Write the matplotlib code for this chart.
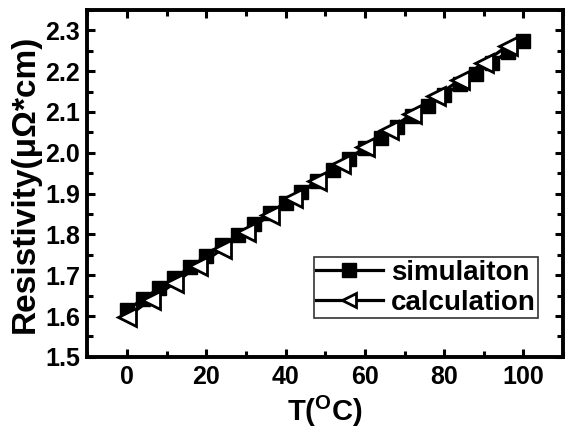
import matplotlib
matplotlib.use('Agg')
import matplotlib.pyplot as plt
from matplotlib.ticker import MultipleLocator, FormatStrFormatter

plt.rcParams['font.family'] = ['Liberation Sans', 'DejaVu Sans']
plt.rcParams['font.weight'] = 'bold'
plt.rcParams['mathtext.fontset'] = 'custom'
plt.rcParams['mathtext.rm'] = 'Liberation Sans:bold'
plt.rcParams['mathtext.default'] = 'rm'

# simulation, every 4 degrees
t_sim = [0, 4, 8, 12, 16, 20, 24, 28, 32, 36, 40, 44, 48, 52, 56, 60,
         64, 68, 72, 76, 80, 84, 88, 92, 96, 100]
r_sim = [1.615, 1.641, 1.668, 1.694, 1.720, 1.747, 1.773, 1.799, 1.826,
         1.852, 1.878, 1.905, 1.931, 1.958, 1.985, 2.011, 2.037, 2.063,
         2.089, 2.115, 2.141, 2.168, 2.194, 2.220, 2.247, 2.273]

# calculation, every 6 degrees
t_calc = [0, 6, 12, 18, 24, 30, 36, 42, 48, 54, 60, 66, 72, 78, 84, 90, 96]
r_calc = [1.598, 1.640, 1.681, 1.723, 1.764, 1.806, 1.847, 1.889, 1.930,
          1.972, 2.013, 2.055, 2.096, 2.138, 2.179, 2.221, 2.262]

fig = plt.figure(figsize=(5.7, 4.3), dpi=100)
ax = fig.add_axes([0.153, 0.170, 0.835, 0.807])

ax.plot(t_sim, r_sim, color='black', lw=2.3, marker='s', ms=10,
        mfc='black', mec='black', label='simulaiton')
ax.plot(t_calc, r_calc, color='black', lw=2.3, marker='<', ms=13,
        mfc='white', mec='black', mew=2, label='calculation')

ax.set_xlim(-10, 110)
ax.set_ylim(1.5, 2.35)
ax.xaxis.set_major_locator(MultipleLocator(20))
ax.xaxis.set_minor_locator(MultipleLocator(10))
ax.yaxis.set_major_locator(MultipleLocator(0.1))
ax.yaxis.set_minor_locator(MultipleLocator(0.05))
ax.yaxis.set_major_formatter(FormatStrFormatter('%.1f'))

ax.tick_params(which='both', direction='in', top=True, right=True,
               labelsize=18, width=2.2)
ax.tick_params(which='major', length=6)
ax.tick_params(which='minor', length=4)
ax.tick_params(axis='x', pad=6)
ax.tick_params(axis='y', pad=5)
for s in ax.spines.values():
    s.set_linewidth(2.8)

ax.set_xlabel('T($^{O}$C)', fontsize=21, fontweight='bold', labelpad=3)
ax.set_ylabel('Resistivity(μΩ*cm)', fontsize=24, fontweight='bold', labelpad=3)

leg = ax.legend(loc='lower right', bbox_to_anchor=(0.947, 0.112),
                fontsize=20, frameon=True, fancybox=False, edgecolor='black',
                handlelength=2.4, borderpad=0.08, labelspacing=0.15,
                handletextpad=0.3, borderaxespad=0)
leg.get_frame().set_linewidth(1.2)
for h in leg.legend_handles:
    h.set_markersize(10)

fig.savefig('out.png', dpi=100)
